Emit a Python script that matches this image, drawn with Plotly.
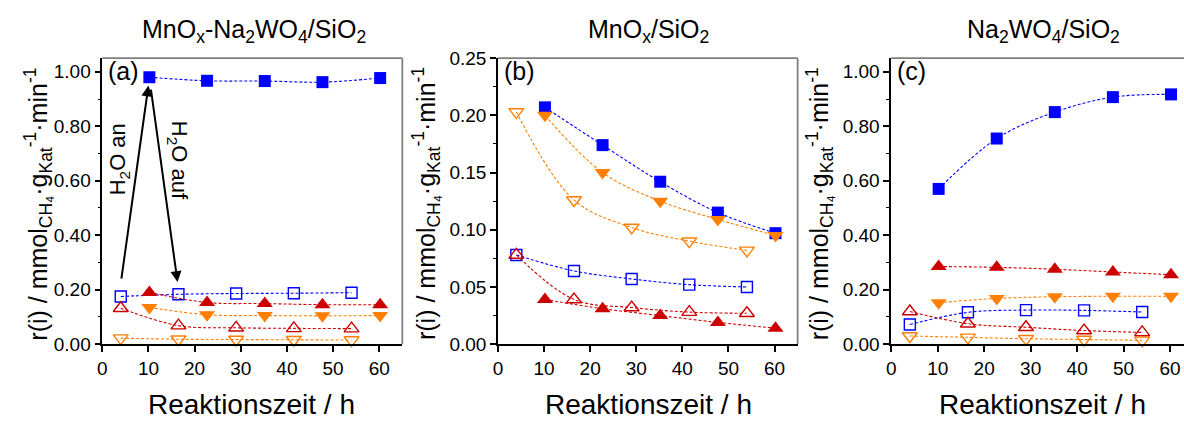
import plotly.graph_objects as go

# ---------------- data ----------------
x_filled = [10.2, 22.7, 35.2, 47.7, 60.2]
x_open = [4.0, 16.5, 29.0, 41.5, 54.0]

# panel (a) MnOx-Na2WO4/SiO2
a_sq_f = [0.980, 0.967, 0.966, 0.962, 0.977]
a_sq_o = [0.175, 0.183, 0.186, 0.187, 0.189]
a_tu_f = [0.190, 0.153, 0.149, 0.145, 0.145]
a_td_f = [0.135, 0.108, 0.105, 0.104, 0.105]
a_tu_o = [0.132, 0.068, 0.060, 0.058, 0.057]
a_td_o = [0.022, 0.018, 0.017, 0.016, 0.015]

# panel (b) MnOx/SiO2
b_sq_f = [0.207, 0.174, 0.142, 0.115, 0.097]
b_td_f = [0.200, 0.150, 0.125, 0.109, 0.095]
b_td_o = [0.203, 0.126, 0.102, 0.090, 0.082]
b_sq_o = [0.078, 0.064, 0.057, 0.052, 0.050]
b_tu_o = [0.078, 0.039, 0.032, 0.028, 0.027]
b_tu_f = [0.039, 0.031, 0.025, 0.019, 0.014]

# panel (c) Na2WO4/SiO2
c_sq_f = [0.570, 0.755, 0.852, 0.907, 0.917]
c_tu_f = [0.285, 0.282, 0.275, 0.265, 0.255]
c_td_f = [0.152, 0.168, 0.174, 0.176, 0.176]
c_sq_o = [0.072, 0.117, 0.125, 0.124, 0.118]
c_tu_o = [0.120, 0.075, 0.062, 0.050, 0.043]
c_td_o = [0.030, 0.025, 0.020, 0.017, 0.014]

x_ticks = [0, 10, 20, 30, 40, 50, 60]
titles = ["MnO<sub>x</sub>-Na<sub>2</sub>WO<sub>4</sub>/SiO<sub>2</sub>",
          "MnO<sub>x</sub>/SiO<sub>2</sub>",
          "Na<sub>2</sub>WO<sub>4</sub>/SiO<sub>2</sub>"]
panel_labels = ["(a)", "(b)", "(c)"]
y_title = "r(i) / mmol<sub>CH₄</sub>·g<sub>Kat</sub><sup>-1</sup>·min<sup>-1</sup>"
x_title = "Reaktionszeit / h"

# ---------------- style ----------------
W, H = 1184, 421
FONT = "Liberation Sans, Arial, sans-serif"
BLUE = "#0000FF"
RED = "#CC0000"
ORANGE = "#FF7F00"

fig = go.Figure()

def px_x(p):
    return p / W

def px_y(p):
    return 1 - p / H

ydom = [px_y(351.7), px_y(50.7)]
xdoms = [[px_x(97.7), px_x(399.0)], [px_x(495.0), px_x(796.0)], [px_x(890.0), 1.0]]
xranges = [[0, 65], [0, 65], [0, 63.0]]
yranges = [[0, 1.05], [0, 0.25], [0, 1.05]]
ydticks = [0.2, 0.05, 0.2]

panels = [
    [(x_filled, a_sq_f, "square", BLUE), (x_open, a_sq_o, "square-open", BLUE),
     (x_filled, a_tu_f, "triangle-up", RED), (x_filled, a_td_f, "triangle-down", ORANGE),
     (x_open, a_tu_o, "triangle-up-open", RED), (x_open, a_td_o, "triangle-down-open", ORANGE)],
    [(x_filled, b_sq_f, "square", BLUE), (x_filled, b_td_f, "triangle-down", ORANGE),
     (x_open, b_td_o, "triangle-down-open", ORANGE), (x_open, b_sq_o, "square-open", BLUE),
     (x_open, b_tu_o, "triangle-up-open", RED), (x_filled, b_tu_f, "triangle-up", RED)],
    [(x_filled, c_sq_f, "square", BLUE), (x_filled, c_tu_f, "triangle-up", RED),
     (x_filled, c_td_f, "triangle-down", ORANGE), (x_open, c_sq_o, "square-open", BLUE),
     (x_open, c_tu_o, "triangle-up-open", RED), (x_open, c_td_o, "triangle-down-open", ORANGE)],
]

for i, series in enumerate(panels):
    xa = "x" if i == 0 else f"x{i+1}"
    ya = "y" if i == 0 else f"y{i+1}"
    for xs, ys, sym, col in series:
        is_open = "open" in sym
        tri = "triangle" in sym
        if is_open:
            size = 13 if tri else 11
        else:
            size = 14 if tri else 12
        fig.add_trace(go.Scatter(
            x=xs, y=ys, xaxis=xa, yaxis=ya, mode="lines+markers",
            line=dict(color=col, width=1.1, dash="3px,2px", shape="spline", smoothing=1.0),
            marker=dict(symbol=sym, size=size, color=col,
                        line=dict(color=col, width=1.4 if is_open else 0)),
            showlegend=False, hoverinfo="skip", cliponaxis=False,
        ))

layout_axes = {}
for i in range(3):
    sx = "xaxis" if i == 0 else f"xaxis{i+1}"
    sy = "yaxis" if i == 0 else f"yaxis{i+1}"
    ya = "y" if i == 0 else f"y{i+1}"
    xa = "x" if i == 0 else f"x{i+1}"
    layout_axes[sx] = dict(
        domain=xdoms[i], range=xranges[i], anchor=ya,
        tickmode="array", tickvals=x_ticks, ticktext=[str(t) for t in x_ticks],
        ticks="outside", ticklen=6, tickwidth=1.5, tickcolor="black",
        showline=True, linecolor="black", linewidth=1.5, showgrid=False, zeroline=False,
        tickfont=dict(family=FONT, size=19, color="black"),
    )
    layout_axes[sy] = dict(
        domain=ydom, range=yranges[i], anchor=xa,
        dtick=ydticks[i], tick0=0, tickformat=".2f",
        ticks="outside", ticklen=6, tickwidth=1.5, tickcolor="black",
        minor=dict(dtick=ydticks[i] / 2, ticks="outside", ticklen=3, tickwidth=1.2, tickcolor="black"),
        showline=True, linecolor="black", linewidth=1.5, showgrid=False, zeroline=False,
        tickfont=dict(family=FONT, size=19, color="black"),
    )

shapes = []
for i in range(3):
    xr = "x domain" if i == 0 else f"x{i+1} domain"
    yr = "y domain" if i == 0 else f"y{i+1} domain"
    shapes.append(dict(type="line", xref=xr, yref=yr, x0=0, x1=1, y0=1, y1=1,
                       line=dict(color="#7f7f7f", width=1.8)))
    if i < 2:
        shapes.append(dict(type="line", xref=xr, yref=yr, x0=1, x1=1, y0=0, y1=1,
                           line=dict(color="#7f7f7f", width=1.8)))

annotations = []
title_cx = [250, 646, 1043]
ytitle_cx = [33, 423, 818]
xtitle_cx = [248, 646, 1042]
for i in range(3):
    annotations.append(dict(xref="paper", yref="paper", x=px_x(title_cx[i]), y=px_y(22),
                            xanchor="center", yanchor="middle", showarrow=False,
                            text=titles[i], font=dict(family=FONT, size=25, color="black")))
    annotations.append(dict(xref="paper", yref="paper", x=px_x(ytitle_cx[i]), y=px_y(204),
                            xanchor="center", yanchor="middle", showarrow=False, textangle=-90,
                            text=y_title, font=dict(family=FONT, size=25, color="black")))
    annotations.append(dict(xref="paper", yref="paper", x=px_x(xtitle_cx[i]), y=px_y(415),
                            xanchor="center", yanchor="middle", showarrow=False,
                            text=x_title, font=dict(family=FONT, size=28, color="black")))
    xr = "x domain" if i == 0 else f"x{i+1} domain"
    yr = "y domain" if i == 0 else f"y{i+1} domain"
    annotations.append(dict(xref=xr, yref=yr, x=0.012, y=0.955, xanchor="left", yanchor="middle",
                            showarrow=False, text=panel_labels[i],
                            font=dict(family=FONT, size=25, color="black")))

# arrows in panel (a): from open square (start) to filled square and back
annotations.append(dict(xref="x", yref="y", axref="x", ayref="y",
                        x=x_filled[0] - 0.2, y=a_sq_f[0] - 0.03,
                        ax=x_open[0] + 0.1, ay=a_sq_o[0] + 0.06,
                        showarrow=True, arrowhead=2, arrowsize=1.1, arrowwidth=2, arrowcolor="black",
                        text=""))
annotations.append(dict(xref="x", yref="y", axref="x", ayref="y",
                        x=x_open[1] - 0.2, y=a_sq_o[1] + 0.045,
                        ax=x_filled[0] + 0.3, ay=a_sq_f[0] - 0.04,
                        showarrow=True, arrowhead=2, arrowsize=1.1, arrowwidth=2, arrowcolor="black",
                        text=""))
annotations.append(dict(xref="x", yref="y", x=3.7, y=0.68, showarrow=False, textangle=-90,
                        xanchor="center", yanchor="middle",
                        text="H<sub>2</sub>O an", font=dict(family=FONT, size=22, color="black")))
annotations.append(dict(xref="x", yref="y", x=16.3, y=0.675, showarrow=False, textangle=90,
                        xanchor="center", yanchor="middle",
                        text="H<sub>2</sub>O auf", font=dict(family=FONT, size=22, color="black")))

fig.update_layout(
    width=W, height=H, margin=dict(l=0, r=0, t=0, b=0),
    paper_bgcolor="white", plot_bgcolor="white",
    font=dict(family=FONT, color="black"),
    shapes=shapes, annotations=annotations, showlegend=False,
    **layout_axes,
)

fig.write_html("out.html")
